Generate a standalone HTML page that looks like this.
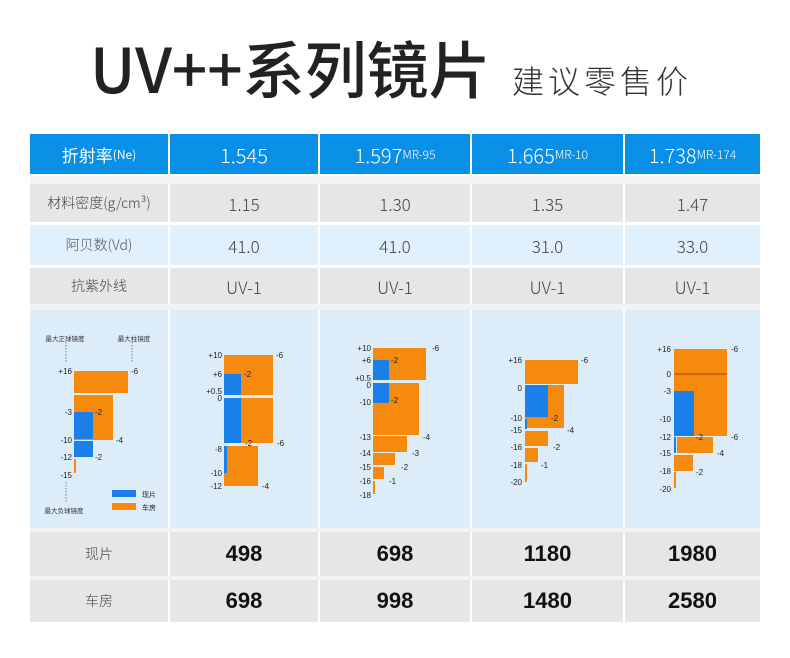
<!DOCTYPE html>
<html><head><meta charset="utf-8"><style>
*{margin:0;padding:0;box-sizing:border-box}
body{width:790px;height:658px;background:#fff;position:relative;overflow:hidden;font-family:"Liberation Sans","Noto Sans CJK SC",sans-serif}
.a{position:absolute}
.c{position:absolute;display:flex;align-items:center;justify-content:center;color:#444;font-size:17px;font-family:"Noto Sans CJK SC",sans-serif;font-weight:300}
.h{background:#0a8fe6;color:#fff;font-size:20px}
.g{background:#e6e6e9}
.b{background:#e0f0fc}
.p{font-weight:bold;color:#111;font-size:22px;font-family:"Liberation Sans",sans-serif}
.s{font-size:12px}
</style></head><body>
<div class="a" style="left:90px;top:26px;font-family:'Liberation Sans','Noto Sans CJK SC',sans-serif;font-weight:bold;font-size:62px;color:#222;line-height:80px;white-space:nowrap"><span style="font-family:'Noto Sans CJK SC',sans-serif;font-weight:500">UV++系列镜片</span></div>
<div class="a" style="left:512px;top:58px;font-family:'Noto Sans CJK SC',sans-serif;font-weight:300;font-size:32px;letter-spacing:4px;color:#333;line-height:44px;white-space:nowrap">建议零售价</div>

<div class="c h" style="left:30px;top:134px;width:138px;height:40px;font-size:17px;font-weight:400">折射率<span class="s">(Ne)</span></div>
<div class="c h" style="left:170px;top:134px;width:148px;height:40px">1.545</div>
<div class="c h" style="left:320px;top:134px;width:150px;height:40px">1.597<span class="s">MR-95</span></div>
<div class="c h" style="left:472px;top:134px;width:151px;height:40px">1.665<span class="s">MR-10</span></div>
<div class="c h" style="left:625px;top:134px;width:135px;height:40px">1.738<span class="s">MR-174</span></div>

<div class="a" style="left:30px;top:176px;width:730px;height:8px;background:#f3f3f6"></div>
<div class="c g" style="left:30px;top:184px;width:138px;height:38px;font-size:14px">材料密度(g/cm³)</div>
<div class="c g" style="left:170px;top:184px;width:148px;height:38px">1.15</div>
<div class="c g" style="left:320px;top:184px;width:150px;height:38px">1.30</div>
<div class="c g" style="left:472px;top:184px;width:151px;height:38px">1.35</div>
<div class="c g" style="left:625px;top:184px;width:135px;height:38px">1.47</div>

<div class="c b" style="left:30px;top:225px;width:138px;height:40px;font-size:14px;color:#555">阿贝数(Vd)</div>
<div class="c b" style="left:170px;top:225px;width:148px;height:40px">41.0</div>
<div class="c b" style="left:320px;top:225px;width:150px;height:40px">41.0</div>
<div class="c b" style="left:472px;top:225px;width:151px;height:40px">31.0</div>
<div class="c b" style="left:625px;top:225px;width:135px;height:40px">33.0</div>

<div class="c g" style="left:30px;top:268px;width:138px;height:36px;font-size:14px">抗紫外线</div>
<div class="c g" style="left:170px;top:268px;width:148px;height:36px">UV-1</div>
<div class="c g" style="left:320px;top:268px;width:150px;height:36px">UV-1</div>
<div class="c g" style="left:472px;top:268px;width:151px;height:36px">UV-1</div>
<div class="c g" style="left:625px;top:268px;width:135px;height:36px">UV-1</div>

<div class="a" style="left:30px;top:304px;width:730px;height:6px;background:#f3f3f6"></div>
<div class="a b" style="left:30px;top:310px;width:138px;height:218px;background:#dcecf8"></div>
<div class="a b" style="left:170px;top:310px;width:148px;height:218px;background:#dcecf8"></div>
<div class="a b" style="left:320px;top:310px;width:150px;height:218px;background:#dcecf8"></div>
<div class="a b" style="left:472px;top:310px;width:151px;height:218px;background:#dcecf8"></div>
<div class="a b" style="left:625px;top:310px;width:135px;height:218px;background:#dcecf8"></div>
<div class="a" style="left:30px;top:528px;width:730px;height:4px;background:#f3f3f6"></div>

<svg class="a" style="left:0;top:0" width="790" height="658" font-family="Liberation Sans, Noto Sans CJK SC, sans-serif" font-size="8" fill="#222">
<g fill="#f68a0c">
<rect x="74" y="371" width="54" height="22"/><rect x="74" y="395" width="39" height="45"/><rect x="74" y="459" width="2" height="14"/>
<rect x="224" y="355" width="49" height="40"/><rect x="224" y="398" width="49" height="45"/><rect x="224" y="446" width="34" height="40"/>
<rect x="373" y="348" width="53" height="32"/><rect x="373" y="383" width="46" height="52"/><rect x="373" y="436" width="34" height="16"/><rect x="373" y="453" width="22" height="12"/><rect x="373" y="467" width="11" height="12"/><rect x="373" y="481" width="2" height="13"/>
<rect x="525" y="360" width="53" height="24"/><rect x="525" y="385" width="39" height="43"/><rect x="525" y="431" width="23" height="15"/><rect x="525" y="448" width="13" height="14"/><rect x="525" y="464" width="2" height="18"/>
<rect x="674" y="349" width="53" height="87"/><rect x="677" y="437" width="36" height="16"/><rect x="674" y="455" width="19" height="16"/><rect x="674" y="472" width="2" height="16"/>
<rect x="112" y="503" width="24" height="7"/>
</g>
<g fill="#1a7fe8">
<rect x="74" y="412" width="19" height="27"/><rect x="74" y="441" width="19" height="16"/>
<rect x="224" y="374" width="17" height="21"/><rect x="224" y="398" width="17" height="45"/><rect x="224" y="446" width="3" height="27"/>
<rect x="373" y="360" width="16" height="20"/><rect x="373" y="383" width="16" height="20"/>
<rect x="525" y="385" width="23" height="32"/><rect x="525" y="419" width="2" height="10"/>
<rect x="674" y="391" width="20" height="45"/><rect x="674" y="437" width="2" height="16"/>
<rect x="112" y="490" width="24" height="7"/>
</g>
<line x1="674" y1="374" x2="727" y2="374" stroke="#a04020" stroke-width="1"/>
<g stroke="#333" stroke-width="0.6" stroke-dasharray="1.5,1.5"><line x1="66" y1="342" x2="66" y2="362"/><line x1="132" y1="342" x2="132" y2="362"/><line x1="66" y1="482" x2="66" y2="502"/></g>
<g font-size="6.5" text-anchor="middle" fill="#333"><text x="65" y="341">最大正球镜度</text><text x="134" y="341">最大柱镜度</text><text x="64" y="513">最大负球镜度</text></g>
<text x="142" y="497" font-size="7">现片</text><text x="142" y="510" font-size="7">车房</text>
<g text-anchor="end">
<text x="72" y="374">+16</text><text x="72" y="415">-3</text><text x="72" y="443">-10</text><text x="72" y="460">-12</text><text x="72" y="478">-15</text>
<text x="222" y="358">+10</text><text x="222" y="377">+6</text><text x="222" y="394">+0.5</text><text x="222" y="401">0</text><text x="222" y="452">-8</text><text x="222" y="476">-10</text><text x="222" y="489">-12</text>
<text x="371" y="351">+10</text><text x="371" y="363">+6</text><text x="371" y="381">+0.5</text><text x="371" y="388">0</text><text x="371" y="405">-10</text><text x="371" y="440">-13</text><text x="371" y="456">-14</text><text x="371" y="470">-15</text><text x="371" y="484">-16</text><text x="371" y="498">-18</text>
<text x="522" y="363">+16</text><text x="522" y="391">0</text><text x="522" y="421">-10</text><text x="522" y="433">-15</text><text x="522" y="450">-16</text><text x="522" y="468">-18</text><text x="522" y="485">-20</text>
<text x="671" y="352">+16</text><text x="671" y="377">0</text><text x="671" y="394">-3</text><text x="671" y="422">-10</text><text x="671" y="440">-12</text><text x="671" y="456">-15</text><text x="671" y="474">-18</text><text x="671" y="492">-20</text>
</g>
<g>
<text x="131" y="374">-6</text><text x="95" y="415">-2</text><text x="116" y="443">-4</text><text x="95" y="460">-2</text>
<text x="276" y="358">-6</text><text x="244" y="377">-2</text><text x="245" y="446">-2</text><text x="277" y="446">-6</text><text x="262" y="489">-4</text>
<text x="432" y="351">-6</text><text x="391" y="363">-2</text><text x="391" y="403">-2</text><text x="423" y="440">-4</text><text x="412" y="456">-3</text><text x="401" y="470">-2</text><text x="389" y="484">-1</text>
<text x="581" y="363">-6</text><text x="551" y="421">-2</text><text x="567" y="433">-4</text><text x="553" y="450">-2</text><text x="541" y="468">-1</text>
<text x="731" y="352">-6</text><text x="696" y="440">-2</text><text x="731" y="440">-6</text><text x="717" y="456">-4</text><text x="696" y="475">-2</text>
</g>
</svg>

<div class="c g" style="left:30px;top:532px;width:138px;height:44px;font-size:14px">现片</div>
<div class="c g p" style="left:170px;top:532px;width:148px;height:44px">498</div>
<div class="c g p" style="left:320px;top:532px;width:150px;height:44px">698</div>
<div class="c g p" style="left:472px;top:532px;width:151px;height:44px">1180</div>
<div class="c g p" style="left:625px;top:532px;width:135px;height:44px">1980</div>
<div class="a" style="left:30px;top:576px;width:730px;height:4px;background:#f3f3f6"></div>
<div class="c g" style="left:30px;top:580px;width:138px;height:42px;font-size:14px">车房</div>
<div class="c g p" style="left:170px;top:580px;width:148px;height:42px">698</div>
<div class="c g p" style="left:320px;top:580px;width:150px;height:42px">998</div>
<div class="c g p" style="left:472px;top:580px;width:151px;height:42px">1480</div>
<div class="c g p" style="left:625px;top:580px;width:135px;height:42px">2580</div>
</body></html>
